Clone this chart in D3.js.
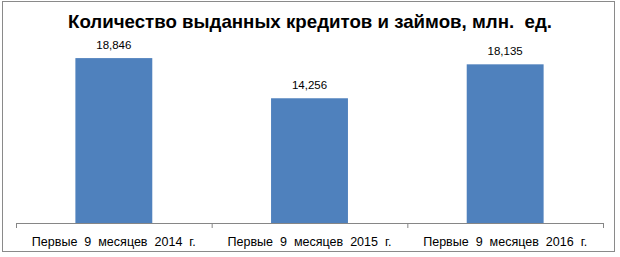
<!DOCTYPE html>
<html>
<head>
<meta charset="utf-8">
<script src="https://cdn.jsdelivr.net/npm/d3@7"></script>
<style>
  body { margin: 0; background: #fff; }
  text { font-family: "Liberation Sans", Arial, sans-serif; }
</style>
</head>
<body>
<svg></svg>
<script>
const svgWidth = 620;
const svgHeight = 257;

// data
const categories = ["Первые  9  месяцев  2014  г.", "Первые  9  месяцев  2015  г.", "Первые  9  месяцев  2016  г."];
const values = [18.846, 14.256, 18.135];
const valueLabels = ["18,846", "14,256", "18,135"];
const title = "Количество выданных кредитов и займов, млн.  ед.";

const svg = d3.select("svg")
    .attr("width", svgWidth)
    .attr("height", svgHeight);

// outer frame
svg.append("rect")
    .attr("x", 2.5).attr("y", 1.5)
    .attr("width", 612).attr("height", 250)
    .attr("fill", "#fff")
    .attr("stroke", "#8a8a8a")
    .attr("stroke-width", 1);

svg.append("text")
    .attr("x", 310)
    .attr("y", 27.5)
    .attr("text-anchor", "middle")
    .attr("font-size", "19px")
    .attr("font-weight", "bold")
    .attr("textLength", 484)
    .attr("lengthAdjust", "spacingAndGlyphs")
    .style("white-space", "pre")
    .text(title);

const x = d3.scaleBand()
    .domain(categories)
    .range([16, 603])
    .padding(0);

const y = d3.scaleLinear()
    .domain([0, 20])
    .range([223, 48]);

const barW = x.bandwidth() * 0.393;

svg.selectAll(".bar")
    .data(values)
    .enter().append("rect")
    .attr("class", "bar")
    .attr("x", (d, i) => x(categories[i]) + (x.bandwidth() - barW) / 2)
    .attr("y", d => y(d))
    .attr("width", barW)
    .attr("height", d => y(0) - y(d))
    .attr("fill", "#4f81bd");

svg.selectAll(".val")
    .data(values)
    .enter().append("text")
    .attr("class", "val")
    .attr("x", (d, i) => x(categories[i]) + x.bandwidth() / 2)
    .attr("y", d => y(d) - 9)
    .attr("text-anchor", "middle")
    .attr("font-size", "11.5px")
    .attr("fill", "#000")
    .text((d, i) => valueLabels[i]);

// category axis
const xAxis = d3.axisBottom(x)
    .tickSize(0)
    .tickSizeOuter(0);

const gx = svg.append("g")
    .attr("transform", "translate(0," + y(0) + ")")
    .call(xAxis);

gx.select(".domain").attr("stroke", "#868686");
gx.selectAll(".tick text")
    .attr("y", 23)
    .attr("dy", 0)
    .attr("font-size", "12.5px")
    .attr("fill", "#000")
    .attr("textLength", 164)
    .attr("lengthAdjust", "spacingAndGlyphs")
    .style("white-space", "pre")
    .attr("font-family", "Liberation Sans, Arial, sans-serif");

// tick marks at band edges
const edges = categories.map(c => x(c)).concat([x.range()[1]]);
gx.selectAll(".edge")
    .data(edges)
    .enter().append("line")
    .attr("class", "edge")
    .attr("x1", d => d + 0.5).attr("x2", d => d + 0.5)
    .attr("y1", 0).attr("y2", 5)
    .attr("stroke", "#868686");
</script>
</body>
</html>
